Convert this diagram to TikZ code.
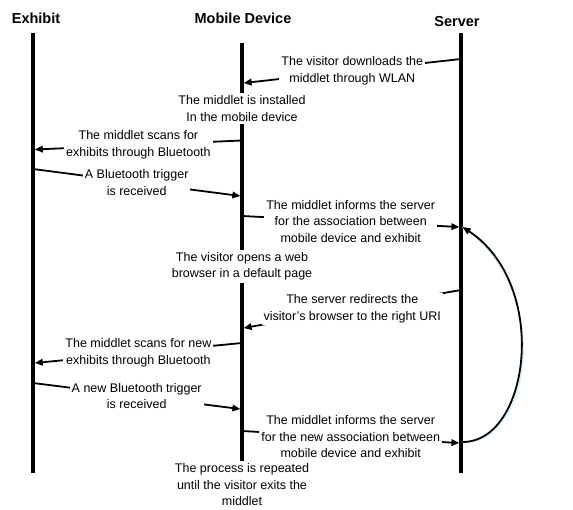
\documentclass[tikz,border=0pt]{standalone}
\usepackage{fontspec}
\setmainfont{Liberation Sans}
\usepackage{tikz}
\usetikzlibrary{arrows.meta,positioning}
\tikzset{
  >={Triangle[length=8pt,width=6.5pt]},
  every node/.style={font=\fontsize{12.5}{16.5}\selectfont},
  % --- nodes
  head/.style   = {font=\fontsize{14.5}{17}\selectfont\bfseries},
  msgtxt/.style = {fill=white, align=center, inner sep=2pt},
  note/.style   = {fill=white, align=center, inner sep=2.5pt},
  % --- edges
  life/.style   = {line width=3.2pt},
  msg/.style    = {->, line width=1.8pt},
  loopback/.style = {->, line width=1.8pt},
  loopshade/.style = {line width=1.6pt, draw=blue!40!cyan!14},
}

\begin{document}
\begin{tikzpicture}[x=1pt,y=-1pt]
  \useasboundingbox (0,0) rectangle (573,510);
  \node[head] (exh) at (36,18)  {Exhibit};
  \node[head] (mob) at (243,18) {Mobile Device};
  \node[head] (srv) at (457,22) {Server};

  % lifelines
  \coordinate (exhtop) at (33,33);  \coordinate (exhbot) at (33,473);
  \coordinate (mobtop) at (242,43); \coordinate (mobbot) at (242,462);
  \coordinate (srvtop) at (461,33); \coordinate (srvbot) at (461,473);
  \draw[life] (exhtop) -- (exhbot);
  \draw[life] (mobtop) -- (mobbot);
  \draw[life] (srvtop) -- (srvbot);

  \node[note] (inst) at (242,108.5) {The middlet is installed\\In the mobile device};
  \node[note] (brws) at (242,266.5) {The visitor opens a web\\browser in a default page};
  \node[note, anchor=north] (rept) at (242,461)
    {The process is repeated\\until the visitor exits the\\middlet};

  % --- message end points
  \coordinate (srv1) at (461,59);    \coordinate (mob1) at (243.6,83);
  \coordinate (mob2) at (242,140.5); \coordinate (exh2) at (34.8,149.5);
  \coordinate (exh3) at (33,169);    \coordinate (mob3) at (240.4,196);
  \coordinate (mob4) at (242,216);   \coordinate (srv4) at (459.4,227);
  \coordinate (srv5) at (461,290);   \coordinate (mob5) at (243.6,328);
  \coordinate (mob6) at (242,343);   \coordinate (exh6) at (34.8,363);
  \coordinate (exh7) at (33,383);    \coordinate (mob7) at (240.4,409);
  \coordinate (mob8) at (242,431);   \coordinate (srv8) at (459.4,443);

  \draw[msg] (srv1) -- (mob1) node[msgtxt, midway] (dl)
    {The visitor downloads the\\middlet through WLAN};
  \draw[msg] (mob2) -- (exh2) node[msgtxt, midway] (scan)
    {The middlet scans for\\exhibits through Bluetooth};
  \draw[msg] (exh3) -- (mob3) node[msgtxt, midway] (trig)
    {A Bluetooth trigger\\is received};
  \draw[msg] (mob4) -- (srv4) node[msgtxt, midway] (assoc)
    {The middlet informs the server\\for the association between\\mobile device and exhibit};
  \draw[msg] (srv5) -- (mob5) node[msgtxt, midway] (redir)
    {The server redirects the\\visitor's browser to the right URI};
  \draw[msg] (mob6) -- (exh6) node[msgtxt, midway] (rescan)
    {The middlet scans for new\\exhibits through Bluetooth};
  \draw[msg] (exh7) -- (mob7) node[msgtxt, midway] (retrig)
    {A new Bluetooth trigger\\is received};
  \draw[msg] (mob8) -- (srv8) node[msgtxt, midway] (reassoc)
    {The middlet informs the server\\for the new association between\\mobile device and exhibit};

  % loop back to the first association
  \coordinate (loopfrom) at (462.6,442);
  \coordinate (loopto)   at (462.6,227);
  \draw[loopshade, shift={(3,3)}] (loopfrom) .. controls (530,442) and (550,285) .. (loopto);
  \draw[loopback] (loopfrom) .. controls (530,442) and (550,285) .. (loopto);
\end{tikzpicture}
\end{document}
